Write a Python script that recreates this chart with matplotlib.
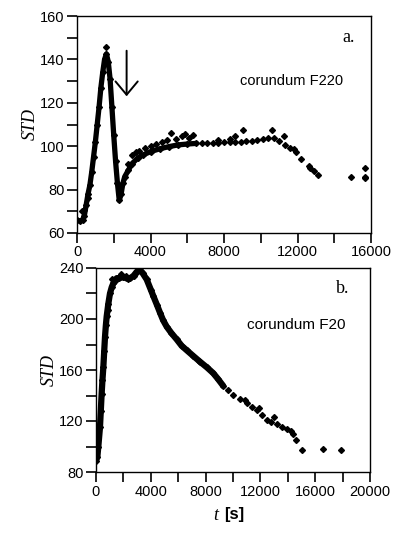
#!/usr/bin/env python3
# -*- coding: utf-8 -*-

import numpy as np
import matplotlib.pyplot as plt
from matplotlib.ticker import MultipleLocator

plt.rcParams["font.family"] = "Liberation Sans"

# ====== Panel a: corundum F220 ======
a_dense_t = [0, 150, 300, 400, 500, 600, 700, 800, 900, 1000, 1100, 1200, 1300,
             1400, 1500, 1600, 1700, 1800, 1900, 2000, 2100, 2200, 2300, 2400,
             2500, 2600, 2800, 3000, 3300, 3600, 4000, 4500, 5000, 5500, 6000, 6500]
a_dense_std = [66, 65.5, 66, 68, 73, 78, 82, 88, 95, 102, 110, 118, 127,
               134, 140, 142.5, 139, 131, 118, 105, 93, 83, 75, 78,
               83, 86, 89, 92, 94.5, 96, 97.5, 98.8, 99.8, 100.6, 101, 101.3]

a_sparse_t = [6800, 7100, 7400, 7700, 8000, 8300, 8600, 8900, 9200, 9500, 9800,
              10100, 10400, 10700, 11000, 11300, 11600, 11900, 12200, 12600,
              12900, 13100, 14900, 15650, 15650]
a_sparse_std = [101.5, 101.6, 101.6, 101.7, 101.8, 101.8, 101.9, 102, 102.2, 102.4, 103,
                103.5, 104, 104, 102.5, 100.5, 99, 97.5, 94, 91,
                88.5, 86.5, 86, 86, 85.3]

a_extra_t = [250, 400, 600, 1600, 2800, 3000, 3200, 3400, 3700, 4000, 4300, 4600,
             4900, 5100, 5400, 5700, 5900, 6100, 6300, 7700, 8300, 8600, 9050,
             10600, 11250, 11800, 12700, 15650]
a_extra_std = [70, 70.5, 76, 145.8, 92, 96, 97.5, 98, 99, 100, 101, 102,
               103, 106, 103.5, 104.5, 105.5, 104, 105, 103, 103.3, 104.5, 107.3,
               107.6, 104.5, 98.5, 90, 89.8]

# ====== Panel b: corundum F20 ======
b_dense_t = [0, 100, 170, 290, 350, 410, 470, 535, 600, 657, 720, 780, 840, 900,
             1020, 1150, 1265, 1400, 1510, 1700, 2000, 2300, 2500, 2750, 2970,
             3200, 3400, 3700, 4000, 4185, 4450, 4670, 4900, 5160, 5500, 5890,
             6250, 6620, 7100, 7590, 8100, 8560, 8900, 9290]
b_dense_std = [89, 92, 100, 115, 128, 141, 152, 162, 175, 186, 195, 202, 207, 212,
               220, 225, 228, 230, 232, 232, 233, 231.5, 232, 234, 237,
               238.5, 236, 231, 223, 218, 211, 205, 199, 194, 189, 184,
               179, 175.5, 171, 166.5, 162, 157.5, 153, 147.5]

b_sparse_t = [9650, 10020, 10500, 11000, 11400, 11730, 12100, 12460, 12800, 13190,
              13600, 13920, 14200, 14400, 14600, 15000, 16600, 17850]
b_sparse_std = [144, 140.5, 137, 134, 131, 128.5, 124.5, 121, 119, 117.5,
                115.5, 114, 112, 110, 105, 97.5, 97.8, 97.5]

b_extra_t = [1200, 1800, 2200, 7500, 10900, 11900, 13000]
b_extra_std = [231, 235, 234, 167, 136.5, 130, 123.5]


def style_axes(ax):
    for s in ax.spines.values():
        s.set_linewidth(1.0)
        s.set_color("black")
    ax.tick_params(which="both", direction="out", length=7, width=1.2,
                   labelsize=10.5, pad=2)


def draw_series(ax, dense_t, dense_y, sparse_t, sparse_y, extra_t, extra_y, lw):
    ax.plot(dense_t, dense_y, "-", color="black", lw=lw, solid_capstyle="round")
    ax.plot(dense_t, dense_y, "D", color="black", markersize=3)
    ax.plot(sparse_t, sparse_y, "D", color="black", markersize=3)
    ax.plot(extra_t, extra_y, "D", color="black", markersize=3)


fig = plt.figure(figsize=(3.98, 5.33), dpi=100)

# --- panel a ---
ax1 = fig.add_axes([77 / 398, 1 - 233 / 533, 294 / 398, 217 / 533])
draw_series(ax1, a_dense_t, a_dense_std, a_sparse_t, a_sparse_std,
            a_extra_t, a_extra_std, 3.8)
ax1.set_xlim(0, 16000)
ax1.set_ylim(60, 160)
ax1.xaxis.set_major_locator(MultipleLocator(4000))
ax1.xaxis.set_minor_locator(MultipleLocator(2000))
ax1.yaxis.set_major_locator(MultipleLocator(20))
ax1.yaxis.set_minor_locator(MultipleLocator(10))
style_axes(ax1)
ax1.set_ylabel("STD", family="Liberation Serif", style="italic", fontsize=13,
               labelpad=1)
ax1.text(0.925, 0.9, "a.", transform=ax1.transAxes, ha="center", va="center",
         family="Liberation Serif", fontsize=13)
ax1.text(0.73, 0.70, "corundum F220", transform=ax1.transAxes, ha="center",
         va="center", fontsize=10.5)
ax1.annotate("", xy=(2700, 123), xytext=(2700, 144),
             arrowprops=dict(arrowstyle="->,head_length=0.48,head_width=0.4",
                             lw=1.4, color="black", mutation_scale=20,
                             shrinkA=0, shrinkB=0))

# --- panel b ---
ax2 = fig.add_axes([96 / 398, 1 - 472 / 533, 274 / 398, 204 / 533])
draw_series(ax2, b_dense_t, b_dense_std, b_sparse_t, b_sparse_std,
            b_extra_t, b_extra_std, 4.5)
ax2.set_xlim(0, 20000)
ax2.set_ylim(80, 240)
ax2.xaxis.set_major_locator(MultipleLocator(4000))
ax2.xaxis.set_minor_locator(MultipleLocator(2000))
ax2.yaxis.set_major_locator(MultipleLocator(40))
ax2.yaxis.set_minor_locator(MultipleLocator(20))
style_axes(ax2)
ax2.set_ylabel("STD", family="Liberation Serif", style="italic", fontsize=13,
               labelpad=1)
ax2.text(0.9, 0.9, "b.", transform=ax2.transAxes, ha="center", va="center",
         family="Liberation Serif", fontsize=13)
ax2.text(0.73, 0.72, "corundum F20", transform=ax2.transAxes, ha="center",
         va="center", fontsize=11)

# --- x label: italic t + bold [s] ---
fig.text(216 / 398, 1 - 515 / 533, "t", family="Liberation Serif",
         style="italic", fontsize=13, ha="center", va="center")
fig.text(224 / 398, 1 - 515 / 533, "[s]", fontweight="bold", fontsize=12,
         ha="left", va="center")

fig.savefig("out.png", dpi=100)
plt.close(fig)
